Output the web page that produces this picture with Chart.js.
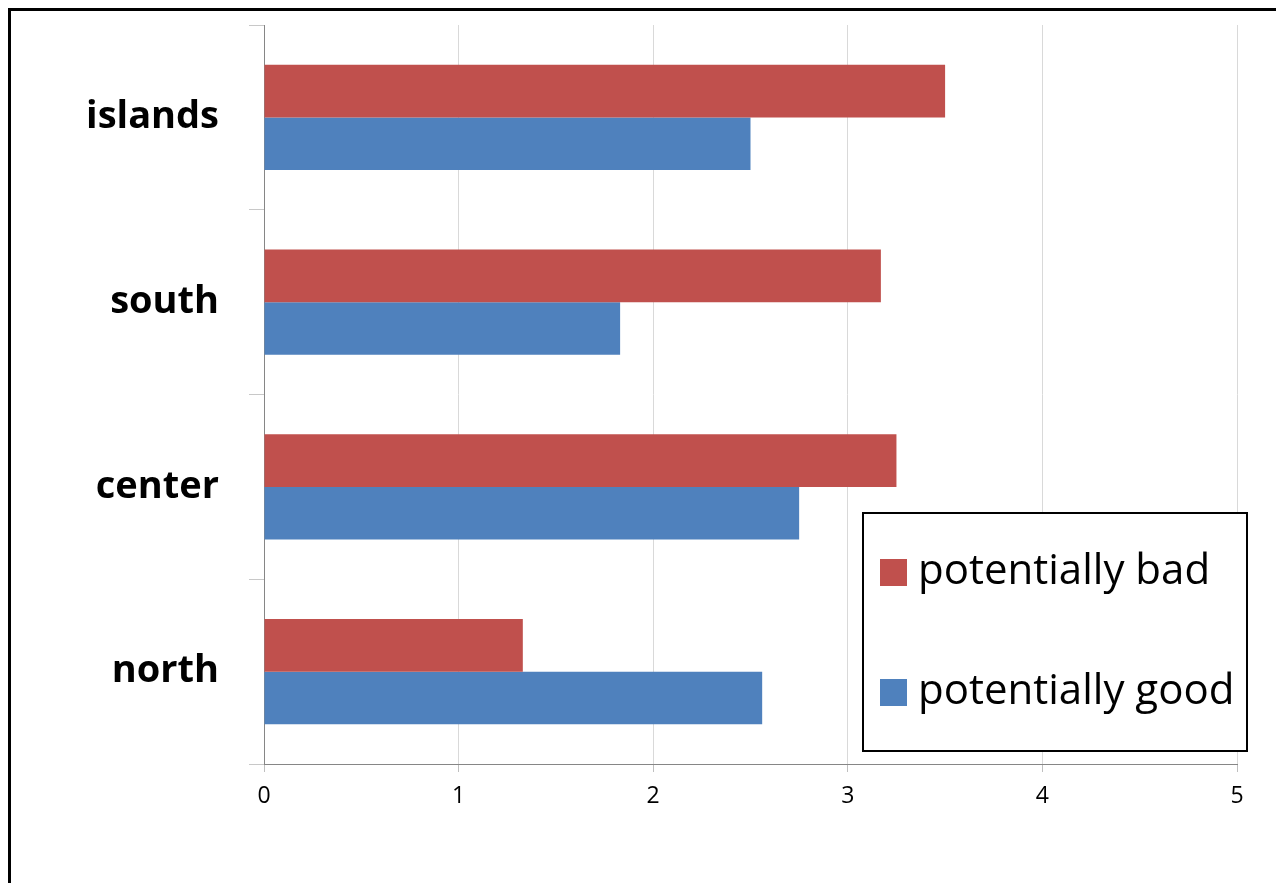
<!DOCTYPE html>
<html>
<head>
<meta charset="utf-8">
<script src="https://cdn.jsdelivr.net/npm/chart.js@4/dist/chart.umd.min.js"></script>
<style>
  html, body { margin: 0; padding: 0; background: #fff; overflow: hidden; }
  #frame { position: absolute; left: 8px; top: 8px; width: 1300px; height: 900px; border: 3px solid #000; }
  #wrap { position: absolute; left: 0; top: 0; width: 1276px; height: 883px; }
</style>
</head>
<body>
<div id="frame"></div>
<div id="wrap"><canvas id="chart" width="1276" height="883"></canvas></div>
<script>
var regions=['islands','south','center','north'];
var bad=[3.5,3.17,3.25,1.33];
var good=[2.5,1.83,2.75,2.56];
var seriesNames=['potentially bad','potentially good'];
var seriesColors=['#C0504D','#4F81BD'];
var xTicks=[0,1,2,3,4,5];

var fontFamily="'Open Sans', 'Liberation Sans', sans-serif";

// legend box drawn inside the plot, bottom right
var boxLegend={
    id:'boxLegend',
    afterDraw:function(chart)
    {
        let ctx=chart.ctx;
        let x=863, y=513, w=384, h=238;
        ctx.save();
        ctx.fillStyle='#fff';
        ctx.fillRect(x,y,w,h);
        ctx.lineWidth=2;
        ctx.strokeStyle='#000';
        ctx.strokeRect(x,y,w,h);
        ctx.font="42px "+fontFamily;
        ctx.textBaseline='middle';
        chart.data.datasets.forEach(function(ds,i)
        {
            let cy=y+59+i*120;
            ctx.fillStyle=ds.backgroundColor;
            ctx.fillRect(880,cy-13,27,27);
            ctx.fillStyle='#000';
            ctx.fillText(ds.label,918,cy);
        });
        ctx.restore();
    }
};

var chart=new Chart(document.getElementById('chart').getContext('2d'),{
    type:'bar',
    data:{
        labels:regions,
        datasets:[
            {label:seriesNames[0],data:bad,backgroundColor:seriesColors[0]},
            {label:seriesNames[1],data:good,backgroundColor:seriesColors[1]}
        ]
    },
    options:{
        indexAxis:'y',
        responsive:false,
        animation:false,
        devicePixelRatio:1,
        categoryPercentage:0.571,
        barPercentage:1,
        layout:{padding:{top:25,right:39,left:0,bottom:0}},
        plugins:{legend:{display:false},tooltip:{enabled:false}},
        scales:{
            x:{
                min:0,max:5,
                afterBuildTicks:function(scale){scale.ticks=xTicks.map(function(v){return {value:v};});},
                afterFit:function(scale){scale.height=119;},
                grid:{color:'#D9D9D9',tickColor:'#BFBFBF',tickLength:8,lineWidth:1},
                border:{color:'#868686',width:1},
                ticks:{color:'#000',font:{family:fontFamily,size:23},padding:11}
            },
            y:{
                afterFit:function(scale){scale.width=264;scale.paddingTop=0;scale.paddingBottom=0;},
                grid:{drawOnChartArea:false,offset:true,color:'#C8C8C8',tickLength:15},
                border:{color:'#868686',width:1},
                ticks:{color:'#000',font:{family:fontFamily,size:38,weight:'bold'},padding:30}
            }
        }
    },
    plugins:[boxLegend]
});
</script>
</body>
</html>
